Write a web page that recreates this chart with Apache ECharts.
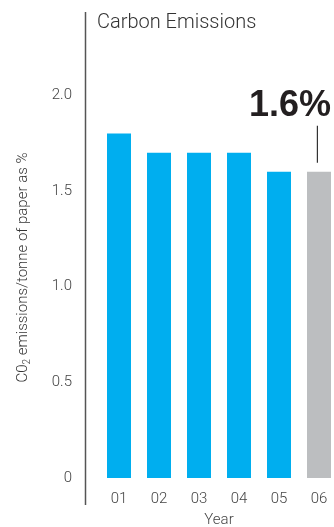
<!DOCTYPE html>
<html><head><meta charset="utf-8">
<script src="https://cdn.jsdelivr.net/npm/echarts@6/dist/echarts.min.js"></script>
<style>html,body{margin:0;padding:0;background:#fff}#c{width:334px;height:527px}</style>
</head><body><div id="c"></div>
<script>
var categories = ['01','02','03','04','05','06'];
var values = [1.8, 1.7, 1.7, 1.7, 1.6, 1.6];
var yTicks = [0, 0.5, 1.0, 1.5, 2.0];
var highlightIndex = 5;
var titleText = 'Carbon Emissions';
var xName = 'Year';

var BLUE = '#00AEEF', GRAY = '#BCBEC0';
var chart = echarts.init(document.getElementById('c'));
var data = values.map(function (v, i) {
  var item = { value: v, itemStyle: { color: i === highlightIndex ? GRAY : BLUE } };
  if (i === highlightIndex) {
    item.label = {
      show: true, position: 'top', distance: 9, align: 'right', offset: [12, 0],
      formatter: function (p) { return '{v|' + p.value.toFixed(1) + '%}\n{l|}{s|}'; },
      rich: {
        v: { fontSize: 36, fontWeight: 'bold', fontFamily: 'Liberation Sans', color: '#231F20', lineHeight: 40, align: 'right' },
        l: { width: 1.2, height: 37, backgroundColor: '#333', align: 'right' },
        s: { width: 13, height: 37, align: 'right' }
      }
    };
  }
  return item;
});
chart.setOption({
  animation: false,
  title: { text: titleText, left: 92, top: 8, textStyle: { fontFamily: 'Roboto', fontWeight: 300, fontSize: 20, color: '#333' } },
  grid: { left: 99, width: 240, top: 57, bottom: 49, containLabel: false, outerBoundsMode: 'none' },
  xAxis: {
    type: 'category', data: categories,
    axisLine: { show: false }, axisTick: { show: false },
    axisLabel: { margin: 14, fontSize: 15, color: '#444', fontFamily: 'Roboto', fontWeight: 300 },
    name: xName, nameLocation: 'middle', nameGap: 35,
    nameTextStyle: { fontSize: 15, color: '#444', fontFamily: 'Roboto', fontWeight: 300 }
  },
  yAxis: {
    type: 'value', min: 0, max: 2.2, interval: 0.5,
    axisLine: { show: false }, axisTick: { show: false }, splitLine: { show: false },
    axisLabel: {
      margin: 27, fontSize: 15, color: '#444', fontFamily: 'Roboto', fontWeight: 300, showMaxLabel: false,
      formatter: function (v) { return v === 0 ? '0' : v.toFixed(1); }
    },
    name: '{a|C0}{b|2}{a| emissions/tonne of paper as %}',
    nameLocation: 'middle', nameRotate: 90, nameGap: 67,
    nameTextStyle: {
      rich: {
        a: { fontSize: 15, color: '#333', fontFamily: 'Roboto', fontWeight: 300 },
        b: { fontSize: 10, color: '#333', fontFamily: 'Roboto', fontWeight: 300, padding: [7, 0, 0, 0] }
      }
    }
  },
  graphic: [{
    type: 'line', shape: { x1: 85.5, y1: 12, x2: 85.5, y2: 505 },
    style: { stroke: '#555', lineWidth: 1.5 }, silent: true
  }],
  series: [{ type: 'bar', data: data, barWidth: 24 }]
});
</script></body></html>
